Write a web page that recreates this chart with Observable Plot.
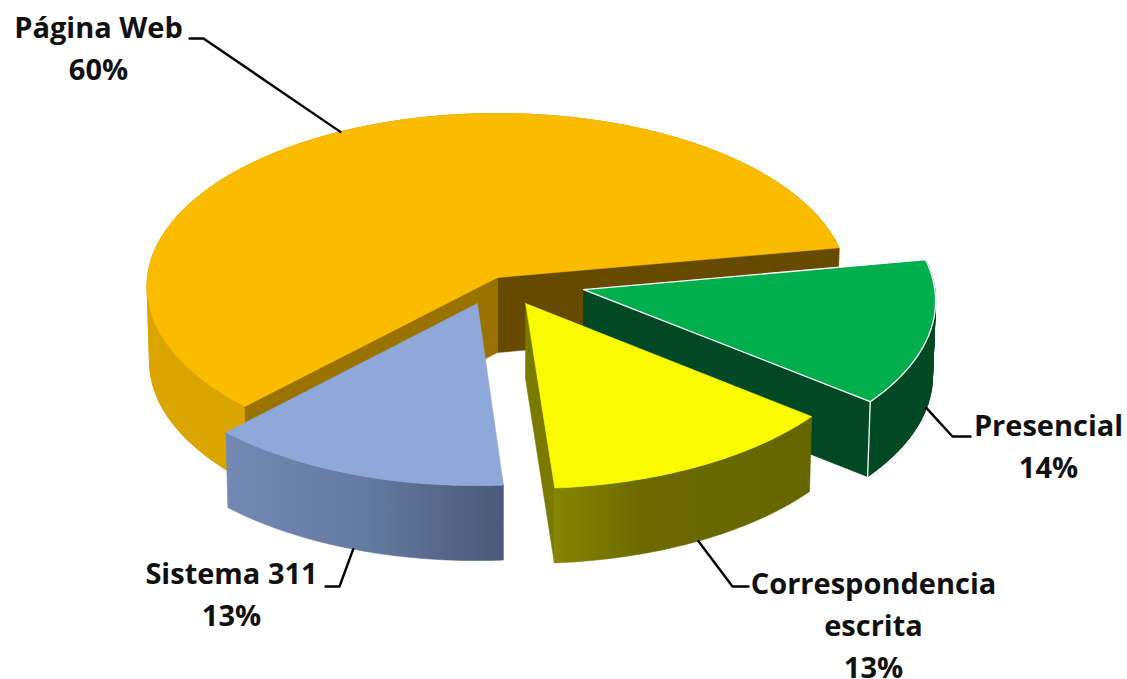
<!DOCTYPE html>
<html>
<head>
<meta charset="utf-8">
<script src="https://cdn.jsdelivr.net/npm/d3@7"></script>
<script src="https://cdn.jsdelivr.net/npm/@observablehq/plot@0.6"></script>
<style>html,body{margin:0;padding:0;background:#fff}svg{display:block}</style>
</head>
<body>
<div id="chart"></div>
<script>
// Data
const categories = ["Página Web", "Presencial", "Correspondencia\nescrita", "Sistema 311"];
const shares = [60.0, 13.5, 13.1, 13.4];          // slice sizes as drawn
const percentLabels = ["60%", "14%", "13%", "13%"];

// Styles and layout
const topColors = ["#fbbc00", "#00ae4e", "#fafa00", "#8da8d9"];
const wallColors = ["#664a00", "#004924", "#7a7a00", "#4a5a78"];
const outerFills = ["#dba500", "#004924", "url(#gYellow)", "url(#gBlue)"];
const explodeU = [0, 0.245, 0.08, -0.057];
const explodeV = [0, 0.07, 0.15, 0.15];
const radii = [1, 1, 1, 0.985];
const elbowA = [[203, 38], [952, 436], [732, 586], [339, 586]];
const elbowB = [[189, 38], [970, 436], [748, 586], [325, 586]];
const labelX = [98, 1048, 873, 231];
const labelY = [45, 443, 622, 591];

// Projection of the tilted pie
const startAngle = 134, depth = 75;
const cx = 497, cy = 277, R = 350, Q = 172.5, k = 0.052;
const rad = d => d * Math.PI / 180;
function project(u, v, down) {
  const s = 1 / (1 - k * v);
  const shrink = down ? 0.993 : 1;
  return {x: cx + R * u * s * shrink, y: cy + Q * v * s + (down ? depth : 0)};
}
const total = d3.sum(shares);
let cursor = startAngle;
const slices = shares.map((sh, i) => {
  const a0 = cursor, a1 = cursor + sh / total * 360;
  cursor = a1;
  return {i, a0, a1, du: explodeU[i], dv: explodeV[i], r: radii[i]};
});
const rim = (sl, a, down) => project(sl.du + sl.r * Math.cos(rad(a)), sl.dv + sl.r * Math.sin(rad(a)), down);
function arc(sl, down) {
  const n = 80, pts = [];
  for (let j = 0; j <= n; j++) pts.push(rim(sl, sl.a0 + (sl.a1 - sl.a0) * j / n, down));
  return pts;
}
const apex = (sl, down) => project(sl.du, sl.dv, down);
const close = pts => pts.concat([pts[0]]);
const topFace = sl => close([apex(sl, false), ...arc(sl, false)]);
const outerFace = sl => close([...arc(sl, false), ...arc(sl, true).reverse()]);
// The curved side swept strip by strip in one path, every strip wound the same way,
// so it keeps its vertical silhouette without seams or holes
function outerSweep(sl) {
  const t = arc(sl, false), b = arc(sl, true), pts = [];
  for (let j = 0; j < t.length - 1; j++) {
    if (t[j + 1].x >= t[j].x) pts.push(t[j], t[j + 1], b[j + 1], b[j], t[j]);
    else pts.push(t[j], b[j], b[j + 1], t[j + 1], t[j]);
  }
  return pts;
}
const wallFace = (sl, a) => close([apex(sl, false), rim(sl, a, false), rim(sl, a, true), apex(sl, true)]);

const face = (pts, fill, stroke = fill, strokeWidth = 0.6) =>
  Plot.line(pts, {x: "x", y: "y", fill, stroke, strokeWidth, curve: "linear"});

function gradient(id, stops) {
  return `<linearGradient id="${id}" x1="0" x2="1" y1="0" y2="0">` +
    stops.map(([o, c]) => `<stop offset="${o}" stop-color="${c}"/>`).join("") + `</linearGradient>`;
}
const defsMark = () => {
  const g = d3.create("svg:g");
  g.html(`<defs>` +
    gradient("gYellow", [[0, "#858500"], [0.35, "#6a6a00"], [1, "#666600"]]) +
    gradient("gBlue", [[0, "#7389b4"], [0.5, "#647aa0"], [1, "#4a5a78"]]) +
    `</defs>`);
  return g.node();
};

const [orange, green, yellow, blue] = slices;
const marks = [
  defsMark,
  // Página Web
  face(outerFace(orange), outerFills[0]),
  face(outerSweep(orange), outerFills[0]),
  face(wallFace(orange, orange.a1), wallColors[0]),
  face(wallFace(orange, orange.a0), "#9a7200"),
  face(topFace(orange), topColors[0]),
  // Presencial
  face(outerFace(green), outerFills[1]),
  face(outerSweep(green), outerFills[1]),
  face(wallFace(green, green.a1), wallColors[1]),
  face([rim(green, green.a1, false), rim(green, green.a1, true)], "none", "#fff", 1.3),
  face(topFace(green), topColors[1], "#fff", 1.3),
  // Correspondencia escrita
  face(wallFace(yellow, yellow.a1), wallColors[2]),
  face(outerFace(yellow), outerFills[2]),
  face(topFace(yellow), topColors[2]),
  // Sistema 311
  face(outerFace(blue), outerFills[3]),
  face(topFace(blue), topColors[3]),
];

// Leader lines start on each slice's rim at its middle angle
slices.forEach((sl, i) => {
  const start = rim(sl, (sl.a0 + sl.a1) / 2, i !== 0);
  marks.push(Plot.line([start, {x: elbowA[i][0], y: elbowA[i][1]}, {x: elbowB[i][0], y: elbowB[i][1]}],
    {x: "x", y: "y", stroke: "#000", strokeWidth: 2.4, curve: "linear"}));
});

marks.push(Plot.text(categories.map((c, i) => c + "\n" + percentLabels[i]), {
  text: d => d,
  x: (d, i) => labelX[i],
  y: (d, i) => labelY[i],
  fontFamily: "'Open Sans', sans-serif",
  fontWeight: 700,
  fontSize: 29,
  lineHeight: 1.45,
  lineAnchor: "middle",
  textAnchor: "middle",
  fill: "#111"
}));

const chart = Plot.plot({
  width: 1127,
  height: 679,
  margin: 0,
  x: {domain: [0, 1127], range: [0, 1127], axis: null},
  y: {domain: [0, 679], range: [0, 679], axis: null},
  style: {background: "#fff"},
  marks
});
document.getElementById("chart").appendChild(chart);
</script>
</body>
</html>
